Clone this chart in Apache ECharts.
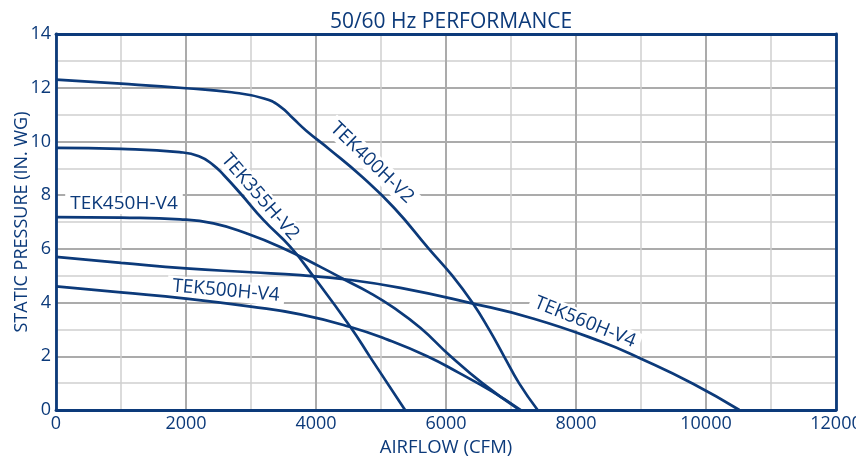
<!DOCTYPE html>
<html><head><meta charset="utf-8">
<script src="https://cdn.jsdelivr.net/npm/echarts@6/dist/echarts.min.js"></script>
<style>html,body{margin:0;padding:0;background:#fff}#c{width:856px;height:461px}</style>
</head><body><div id="c"></div>
<script>
var tek400 = [[0,12.3],[1000,12.15],[2000,11.98],[2700,11.83],[3200,11.6],[3450,11.3],[3650,10.85],[3850,10.4],[4200,9.72],[4700,8.7],[5200,7.53],[5737,6],[6097,5],[6405,4],[6662,3],[6893,2],[7123,1.0],[7410,0]];
var tek355 = [[0,9.76],[1000,9.72],[1900,9.6],[2200,9.45],[2420,9.12],[2580,8.75],[2835,8.07],[3194,7.07],[3606,6.07],[3965,4.96],[4530,3.09],[4838,1.95],[5370,0]];
var tek450 = [[0,7.18],[1000,7.16],[1911,7.1],[2424,6.95],[2937,6.57],[3451,6.07],[4068,5.33],[4450,4.84],[4800,4.4],[5200,3.8],[5609,3.05],[6071,2.0],[6559,1.0],[7130,0]];
var tek560 = [[0,5.7],[1000,5.48],[2000,5.27],[3000,5.13],[3760,5.02],[4500,4.85],[5300,4.55],[6350,4.0],[7350,3.4],[8382,2.55],[9000,1.91],[9800,0.98],[10513,0]];
var tek500 = [[0,4.6],[1000,4.38],[2000,4.15],[3000,3.85],[3760,3.56],[4530,3.09],[5100,2.62],[5711,2.0],[6200,1.38],[6700,0.7],[7150,0]];
var seriesNames = ['TEK400H-V2','TEK355H-V2','TEK450H-V4','TEK560H-V4','TEK500H-V4'];
var labelCoords = [[4862,9.2],[3140,7.93],[1046,7.69],[8140,3.27],[2615,4.44]];
var labelRotate = [-44,-49,0,-22,-5];
var xTicks = [0,2000,4000,6000,8000,10000,12000];
var yTicks = [0,2,4,6,8,10,12,14];

var blue = '#0c3a7a';
var data = [tek400, tek355, tek450, tek560, tek500];
var font = 'Open Sans';
var series = data.map(function(d,i){
  return {
    type:'line', name:seriesNames[i], data:d, smooth:0.5, symbol:'none',
    lineStyle:{color:blue,width:2.7}, z:5,
    markPoint:{
      symbol:'rect', symbolSize:0, silent:true,
      data:[{coord:labelCoords[i], value:seriesNames[i]}],
      label:{show:true, formatter:seriesNames[i], rotate:labelRotate[i], color:blue,
        fontFamily:font, fontSize:19, backgroundColor:'#fff', padding:[1,5],
        position:'inside', align:'center', verticalAlign:'middle'}
    }
  };
});
var plain = function(v){return String(v);};
var chart = echarts.init(document.getElementById('c'));
chart.setOption({
  animation:false,
  title:{text:'50/60 Hz PERFORMANCE', left:446, textAlign:'center', top:7,
    textStyle:{color:blue, fontFamily:font, fontSize:21, fontWeight:'normal'}},
  grid:{left:56, right:20, top:34, bottom:51, outerBoundsMode:'none', containLabel:false},
  xAxis:[{type:'value', min:0, max:12000, interval:2000,
    name:'AIRFLOW (CFM)', nameLocation:'middle', nameGap:28, nameMoveOverlap:false,
    nameTextStyle:{color:blue, fontFamily:font, fontSize:18.5},
    axisLine:{show:true, lineStyle:{color:blue, width:2.8}}, axisTick:{show:false},
    axisLabel:{color:blue, fontFamily:font, fontSize:18, margin:5, formatter:plain,
      customValues:xTicks},
    splitLine:{show:true, lineStyle:{color:'#ababab', width:2}},
    minorTick:{show:false, splitNumber:2},
    minorSplitLine:{show:true, lineStyle:{color:'#d0d0d0', width:1.5}}},
   {type:'value', position:'top', min:0, max:12000, axisLine:{show:true, onZero:false, lineStyle:{color:blue, width:2.8}},
    axisTick:{show:false}, axisLabel:{show:false}, splitLine:{show:false}}],
  yAxis:[{type:'value', min:0, max:14, interval:2,
    name:'STATIC PRESSURE (IN. WG)', nameLocation:'middle', nameGap:25, nameMoveOverlap:false,
    nameTextStyle:{color:blue, fontFamily:font, fontSize:18},
    axisLine:{show:true, lineStyle:{color:blue, width:2.8}}, axisTick:{show:false},
    axisLabel:{color:blue, fontFamily:font, fontSize:18, margin:5, formatter:plain, customValues:yTicks},
    splitLine:{show:true, lineStyle:{color:'#ababab', width:2}},
    minorTick:{show:false, splitNumber:2},
    minorSplitLine:{show:true, lineStyle:{color:'#d0d0d0', width:1.5}}},
   {type:'value', position:'right', min:0, max:14, axisLine:{show:true, onZero:false, lineStyle:{color:blue, width:2.8}},
    axisTick:{show:false}, axisLabel:{show:false}, splitLine:{show:false}}],
  series:series
});
</script></body></html>
